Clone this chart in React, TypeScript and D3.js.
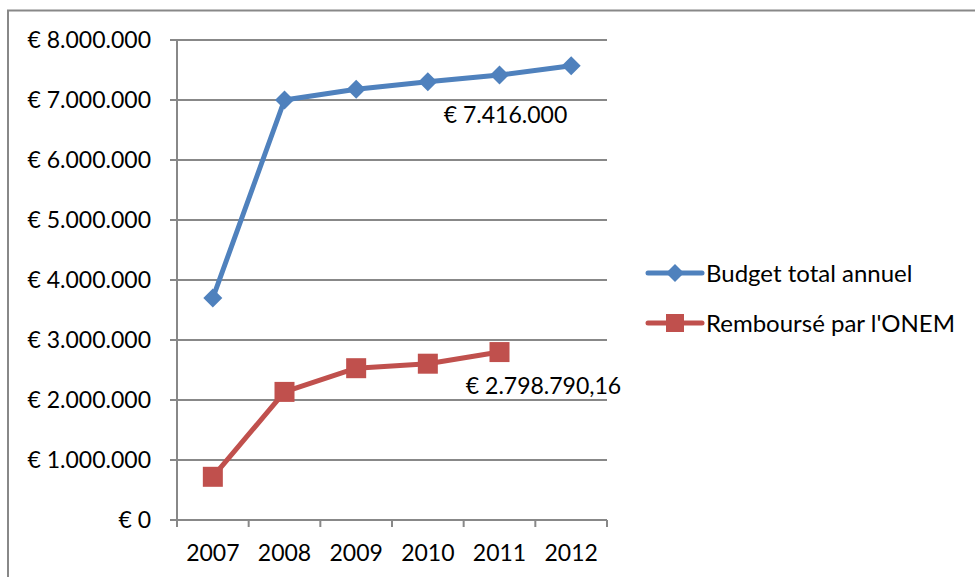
import React from "react";
import * as d3 from "d3";

const years = ["2007", "2008", "2009", "2010", "2011", "2012"];
const budget = [3700000, 7000000, 7180000, 7305000, 7416000, 7570000];
const onem = [720000, 2135000, 2530000, 2605000, 2798790.16];
const yTicks = [0, 1000000, 2000000, 3000000, 4000000, 5000000, 6000000, 7000000, 8000000];
const seriesNames = ["Budget total annuel", "Remboursé par l'ONEM"];
const budgetLabel = "€ 7.416.000";
const onemLabel = "€ 2.798.790,16";

const W = 975, H = 577;
const left = 177, right = 607, top = 40, bottom = 520;
const BLUE = "#4F81BD", RED = "#C0504D", GRID = "#888888";
const FONT = "Lato, 'Open Sans', sans-serif";
const NUM = 23;

function fmt(v: number) {
  if (v === 0) return "€ 0";
  const s = Math.round(v).toString().replace(/\B(?=(\d{3})+(?!\d))/g, ".");
  return "€ " + s;
}

export default function App() {
  const x = d3.scaleBand<string>().domain(years).range([left, right]);
  const y = d3.scaleLinear().domain([0, 8000000]).range([bottom, top]);
  const cx = (i: number) => (x(years[i]) as number) + x.bandwidth() / 2;
  const line = d3.line<number>().x((_, i) => cx(i)).y((d) => y(d));
  const diamond = (px: number, py: number, r: number) =>
    `M${px},${py - r}L${px + r},${py}L${px},${py + r}L${px - r},${py}Z`;
  const boundaries = [...years.map((yr) => x(yr) as number), right];

  return (
    <svg width={W} height={H} style={{ position: "absolute", left: 0, top: 0, background: "#fff" }} fontFamily={FONT}>
      <rect x={8} y={10.5} width={1000} height={600} fill="none" stroke={GRID} strokeWidth={2} />
      {yTicks.map((t) => (
        <g key={t}>
          <line x1={left - 7} x2={right} y1={y(t)} y2={y(t)} stroke={GRID} strokeWidth={2} />
          <text x={151} y={y(t)} dy="0.36em" textAnchor="end" fontSize={NUM} fill="#000">{fmt(t)}</text>
        </g>
      ))}
      <line x1={left} x2={left} y1={top} y2={bottom} stroke={GRID} strokeWidth={2} />
      {boundaries.map((b, i) => (
        <line key={i} x1={b} x2={b} y1={bottom} y2={bottom + 7} stroke={GRID} strokeWidth={2} />
      ))}
      {years.map((yr, i) => (
        <text key={yr} x={cx(i)} y={553} dy="0.36em" textAnchor="middle" fontSize={NUM} fill="#000">{yr}</text>
      ))}
      <path d={line(budget) || ""} fill="none" stroke={BLUE} strokeWidth={5} strokeLinejoin="round" />
      {budget.map((v, i) => (
        <path key={i} d={diamond(cx(i), y(v), 9.5)} fill={BLUE} />
      ))}
      <path d={line(onem) || ""} fill="none" stroke={RED} strokeWidth={5} strokeLinejoin="round" />
      {onem.map((v, i) => (
        <rect key={i} x={cx(i) - 10} y={y(v) - 10} width={20} height={20} fill={RED} />
      ))}
      <text x={cx(4) + 6} y={115} dy="0.36em" textAnchor="middle" fontSize={NUM} fill="#000">{budgetLabel}</text>
      <text x={cx(4) + 44} y={386} dy="0.36em" textAnchor="middle" fontSize={NUM} fill="#000">{onemLabel}</text>
      {seriesNames.map((n, i) => {
        const ly = 273 + i * 50;
        const col = i === 0 ? BLUE : RED;
        return (
          <g key={n}>
            <line x1={648} x2={702} y1={ly} y2={ly} stroke={col} strokeWidth={5} strokeLinecap="round" />
            {i === 0 ? <path d={diamond(675, ly, 9)} fill={col} /> : <rect x={666} y={ly - 9} width={18} height={18} fill={col} />}
            <text x={706} y={ly} dy="0.36em" fontSize={24} fill="#000">{n}</text>
          </g>
        );
      })}
    </svg>
  );
}
